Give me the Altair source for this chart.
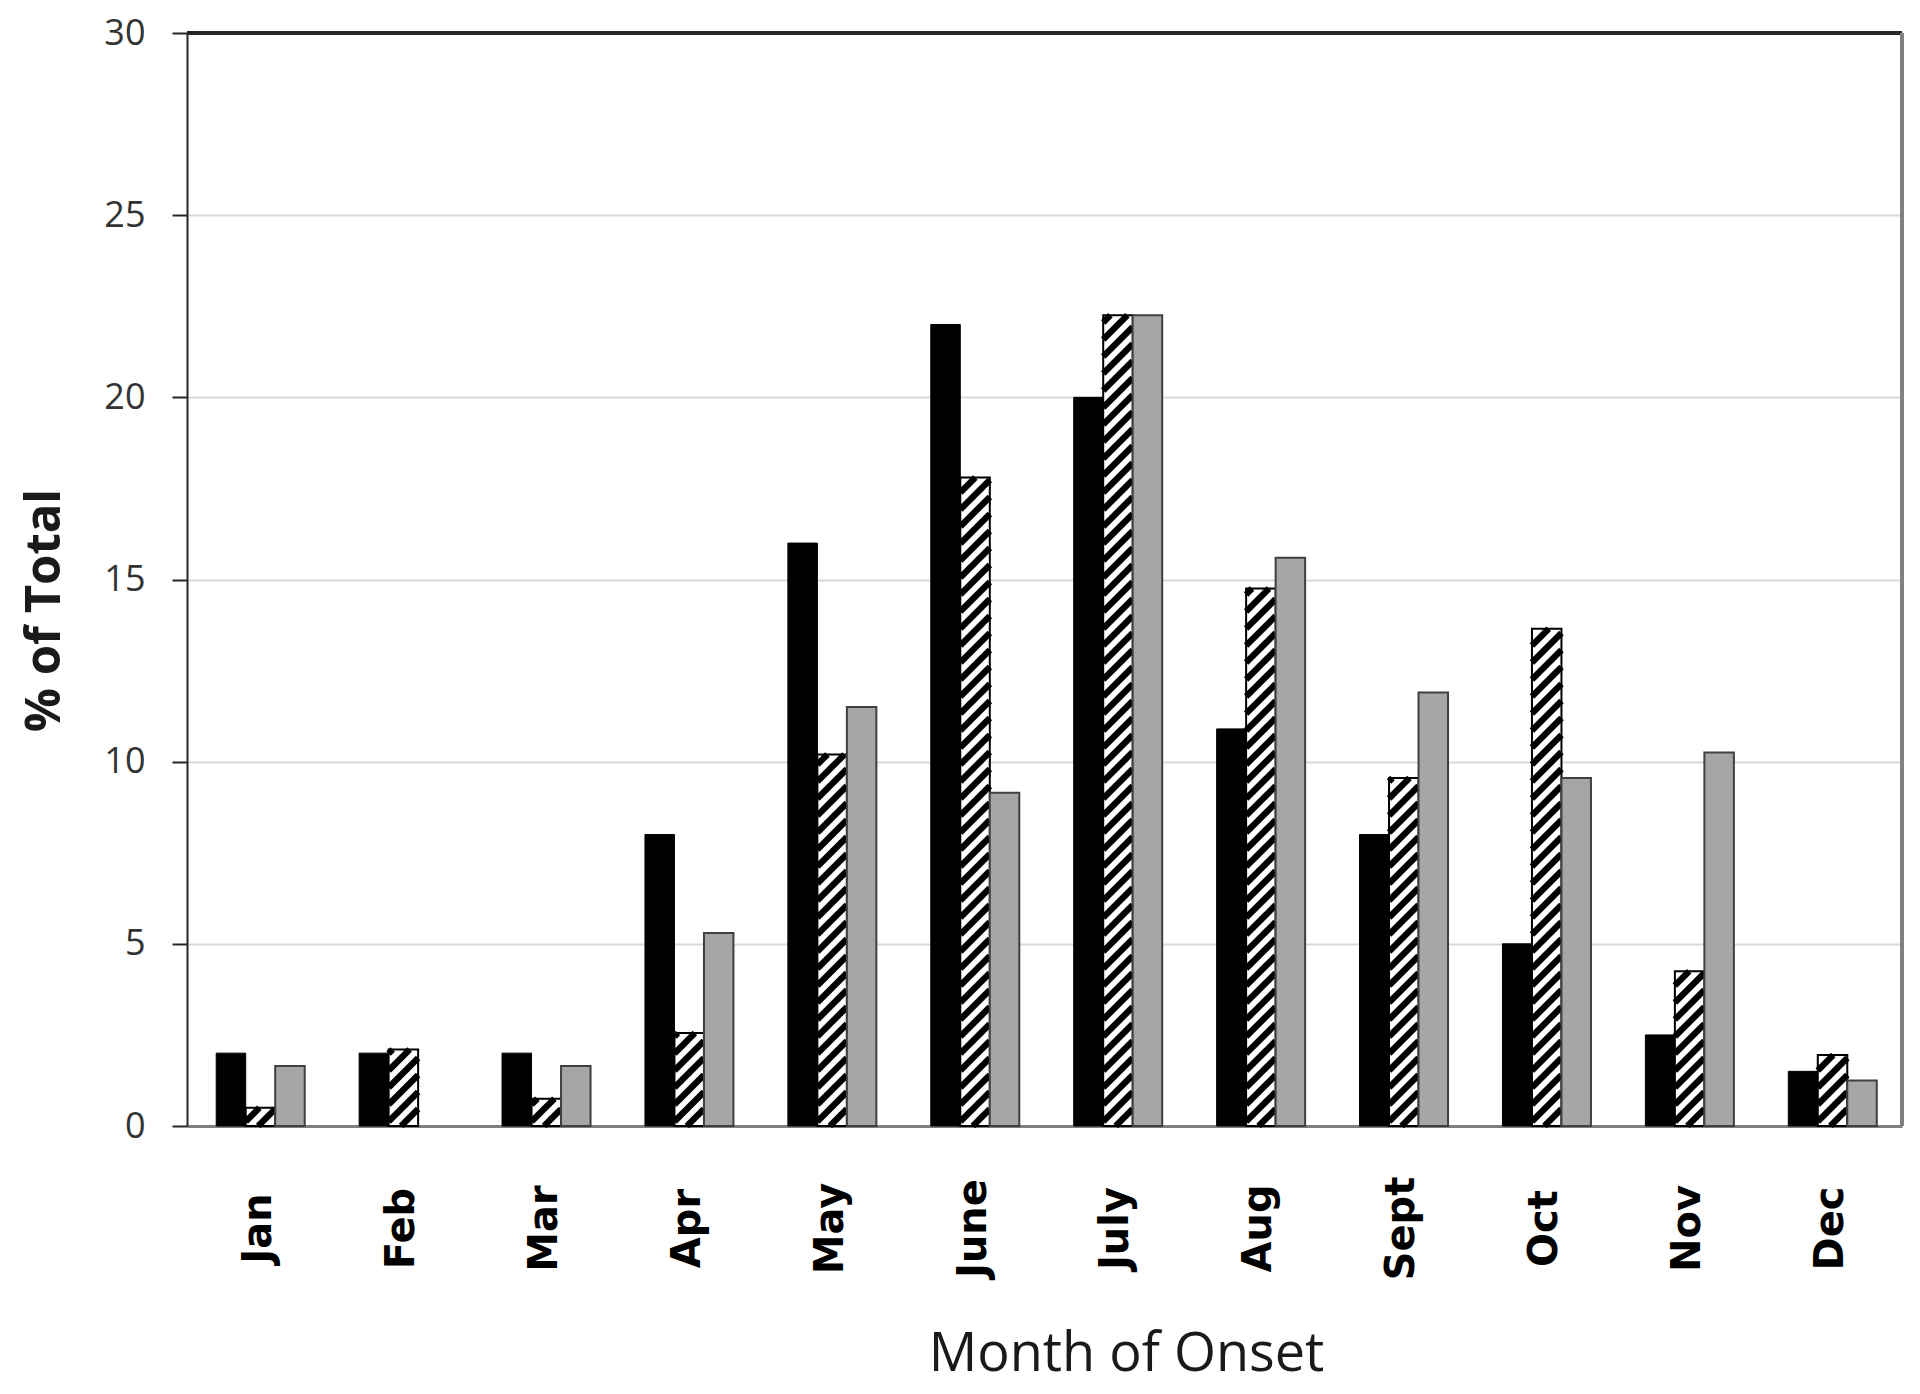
import json
import math
import altair as alt
import pandas as pd

# ---------------- data ----------------
MONTHS = ["Jan", "Feb", "Mar", "Apr", "May", "June", "July", "Aug", "Sept", "Oct", "Nov", "Dec"]
SERIES_BLACK = [2.0, 2.0, 2.0, 8.0, 16.0, 22.0, 20.0, 10.9, 8.0, 5.0, 2.5, 1.5]
SERIES_HATCH = [0.5, 2.1, 0.75, 2.55, 10.2, 17.8, 22.25, 14.75, 9.55, 13.65, 4.25, 1.95]
SERIES_GRAY = [1.65, 0.0, 1.65, 5.3, 11.5, 9.15, 22.25, 15.6, 11.9, 9.55, 10.25, 1.25]
Y_TICKS = [0, 5, 10, 15, 20, 25, 30]

# ---------------- layout / style ----------------
W, H = 1715, 1093
Y_MAX = 30
N = len(MONTHS)
PXX = W / N          # px per x unit
PXY = H / Y_MAX      # px per y unit
BAR_PX = 29.5
BW = BAR_PX / PXX    # bar width in x units
SHIFT = 2.0 / PXX    # small rightward shift of each bar group
SLOPE = 1.0          # hatch slope (vertical px per horizontal px)
PERIOD = 17.0        # vertical hatch period in px
THICK = 9.0          # vertical black-stripe thickness in px
STRIPE_W = THICK / math.sqrt(1 + SLOPE ** 2)

rows = []
for i, m in enumerate(MONTHS):
    for s, vals in enumerate([SERIES_BLACK, SERIES_HATCH, SERIES_GRAY]):
        rows.append({"month": m, "idx": i, "s": s, "value": vals[i]})
df = pd.DataFrame(rows)

# hatch stripe centre-lines of the hatched series, clipped to each bar
stripe_rows = []
for i, v in enumerate(SERIES_HATCH):
    if v <= 0:
        continue
    h = v * PXY
    x0 = i + 0.5 + SHIFT - 0.5 * BW
    c0 = -(SLOPE * BAR_PX)
    n = int(math.ceil((h - c0) / PERIOD)) + 1
    for k in range(n):
        c = c0 + k * PERIOD
        xs = max(0.0, -c / SLOPE)
        xe = min(BAR_PX, (h - c) / SLOPE)
        if xe - xs <= 0.3:
            continue
        stripe_rows.append({
            "key": f"{i}-{k}",
            "xs": x0 + xs / PXX,
            "xe": x0 + xe / PXX,
            "ys": (SLOPE * xs + c) / PXY,
            "ye": (SLOPE * xe + c) / PXY,
        })
stripe_df = pd.DataFrame(stripe_rows)

xscale = alt.Scale(domain=[0, N], nice=False, zero=False)
yscale = alt.Scale(domain=[0, Y_MAX], nice=False)

base = (
    alt.Chart(df)
    .transform_filter("datum.value > 0")
    .transform_calculate(
        xa=f"datum.idx + 0.5 + {SHIFT} + (datum.s - 1.5) * {BW}",
        xb=f"datum.idx + 0.5 + {SHIFT} + (datum.s - 0.5) * {BW}",
    )
)

label_expr = f"{json.dumps(MONTHS)}[floor(datum.value)]"

x_axis = alt.Axis(
    values=[i + 0.5 for i in range(N)],
    labelExpr=label_expr,
    labelAngle=270,
    labelAlign="center",
    labelBaseline="middle",
    labelPadding=102,
    labelFont="DejaVu Sans",
    labelFontWeight="bold",
    labelFontSize=40,
    labelColor="#000000",
    labelFlush=False,
    labelOverlap=False,
    ticks=False,
    grid=False,
    domainColor="#7f7f7f",
    domainWidth=3,
    title="Month of Onset",
    titleFont="Open Sans",
    titleFontSize=54,
    titleFontWeight="normal",
    titleColor="#1a1a1a",
    titleX=939,
    titleY=244,
    titleAlign="center",
    titleBaseline="alphabetic",
)

y_axis = alt.Axis(
    values=Y_TICKS,
    grid=True,
    gridColor="#d9d9d9",
    gridWidth=2,
    domainColor="#262626",
    domainWidth=2,
    tickColor="#262626",
    tickSize=15,
    tickWidth=2,
    labelFont="Open Sans",
    labelFontSize=36,
    labelColor="#333333",
    labelPadding=27,
    title="% of Total",
    titleFont="Open Sans",
    titleFontWeight="bold",
    titleFontSize=49,
    titleColor="#1a1a1a",
    titleAngle=270,
    titleX=-143,
    titleY=577,
    titleAlign="center",
    titleBaseline="middle",
)

black_bars = base.transform_filter("datum.s == 0").mark_rect(
    fill="#000000", stroke="#000000", strokeWidth=1
).encode(
    x=alt.X("xa:Q", scale=xscale, axis=x_axis),
    x2="xb:Q",
    y=alt.Y("value:Q", scale=yscale, axis=y_axis),
    y2=alt.datum(0),
)

hatch_bg = base.transform_filter("datum.s == 1").mark_rect(fill="#ffffff").encode(
    x=alt.X("xa:Q", scale=xscale),
    x2="xb:Q",
    y=alt.Y("value:Q", scale=yscale),
    y2=alt.datum(0),
)

stripes = alt.Chart(stripe_df).mark_rule(
    color="#000000", strokeWidth=STRIPE_W, strokeCap="butt"
).encode(
    x=alt.X("xs:Q", scale=xscale),
    x2="xe:Q",
    y=alt.Y("ys:Q", scale=yscale),
    y2="ye:Q",
)

hatch_outline = base.transform_filter("datum.s == 1").mark_rect(
    filled=False, stroke="#000000", strokeWidth=2
).encode(
    x=alt.X("xa:Q", scale=xscale),
    x2="xb:Q",
    y=alt.Y("value:Q", scale=yscale),
    y2=alt.datum(0),
)

gray_bars = base.transform_filter("datum.s == 2").mark_rect(
    fill="#a6a6a6", stroke="#404040", strokeWidth=2
).encode(
    x=alt.X("xa:Q", scale=xscale),
    x2="xb:Q",
    y=alt.Y("value:Q", scale=yscale),
    y2=alt.datum(0),
)

top_border = alt.Chart(df).mark_rule(color="#262626", strokeWidth=3).encode(
    y=alt.datum(Y_MAX, scale=yscale)
)
right_border = alt.Chart(df).mark_rule(color="#808080", strokeWidth=3).encode(
    x=alt.datum(N, scale=xscale)
)

chart = (
    alt.layer(black_bars, hatch_bg, stripes, hatch_outline, gray_bars, top_border, right_border)
    .properties(
        width=W,
        height=H,
        autosize=alt.AutoSizeParams(type="none"),
        padding={"left": 179, "top": 25, "right": 10, "bottom": 260},
        background="#ffffff",
    )
    .configure_view(stroke=None)
)

chart.save("out.html", embed_options={"renderer": "svg", "actions": False})
